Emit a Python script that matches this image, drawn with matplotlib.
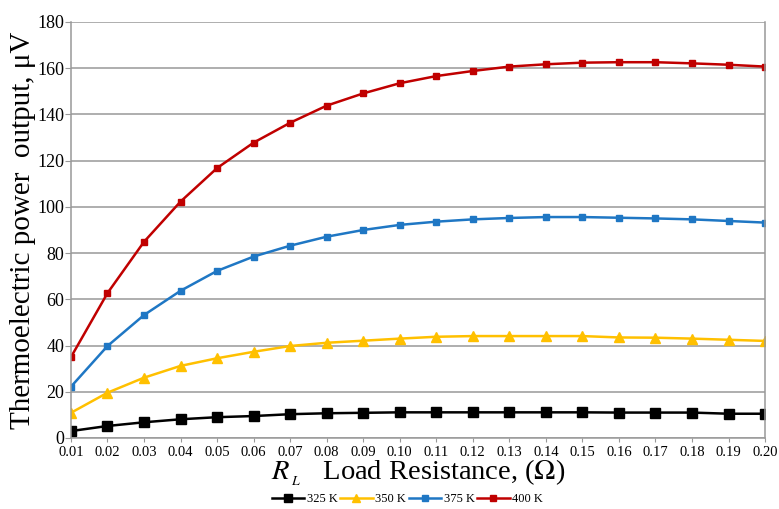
import numpy as np
from matplotlib import pyplot as plt

# load resistance (ohm)
r_load = [0.01, 0.02, 0.03, 0.04, 0.05, 0.06, 0.07, 0.08, 0.09, 0.10,
          0.11, 0.12, 0.13, 0.14, 0.15, 0.16, 0.17, 0.18, 0.19, 0.20]

# thermoelectric power output (uV)
p_325 = [3.0, 5.2, 6.8, 8.1, 9.0, 9.5, 10.3, 10.7, 10.9, 11.1,
         11.1, 11.1, 11.1, 11.1, 11.1, 11.0, 11.0, 11.0, 10.5, 10.5]
p_350 = [10.9, 19.6, 26.1, 31.2, 34.5, 37.3, 39.8, 41.2, 42.1, 43.0,
         43.8, 44.1, 44.1, 44.1, 44.1, 43.5, 43.4, 43.0, 42.5, 42.0]
p_375 = [22.2, 39.8, 53.2, 63.7, 72.3, 78.5, 83.2, 87.1, 90.0, 92.2,
         93.6, 94.6, 95.2, 95.6, 95.6, 95.3, 95.0, 94.6, 93.9, 93.2]
p_400 = [35.0, 62.7, 84.9, 102.3, 116.8, 127.8, 136.4, 143.8, 149.1, 153.5,
         156.6, 158.8, 160.7, 161.7, 162.4, 162.6, 162.6, 162.1, 161.5, 160.7]

labels = ["325 K", "350 K", "375 K", "400 K"]
x_ticks = ["%.2f" % v for v in r_load]


def main():
    plt.rcParams['font.family'] = ['Liberation Serif', 'DejaVu Serif']
    plt.rcParams['mathtext.fontset'] = 'stix'
    fig = plt.figure(figsize=(7.79, 5.09), dpi=100)
    ax = fig.add_axes([0.0911, 0.1395, 0.891, 0.8173])

    styles = [("black", "s", 6.5), ("#FFC000", "^", 6.5),
              ("#1F77C4", "s", 5), ("#C00000", "s", 5)]
    series = [p_325, p_350, p_375, p_400]
    for vals, lab, (col, mk, ms) in zip(series, labels, styles):
        ax.plot(r_load, vals, color=col, marker=mk, markersize=ms, lw=1.8,
                label=lab)

    ax.set_xlim(0.01, 0.20)
    ax.set_ylim(0, 180)
    ax.set_xticks(r_load)
    ax.set_xticklabels(x_ticks, fontsize=10.5)
    ax.set_yticks(np.arange(0, 181, 20))
    ax.tick_params(axis='y', labelsize=13, length=4, color='#999999', pad=1)
    ax.tick_params(axis='x', length=3, color='#999999', pad=3)
    ax.yaxis.grid(True, color='#999999', lw=1.1)
    ax.set_axisbelow(True)
    for s in ['left', 'right', 'bottom']:
        ax.spines[s].set_color('#999999')
        ax.spines[s].set_linewidth(1.1)
    ax.spines['top'].set_visible(False)

    ax.set_ylabel("Thermoelectric power  output, \u03bcV", fontsize=21,
                  labelpad=1)
    ax.set_xlabel(r"$R_{\,{}_L}$   Load Resistance, ($\Omega$)",
                  fontsize=20.5, labelpad=-1)

    fig.legend(*ax.get_legend_handles_labels(), loc='lower center',
               bbox_to_anchor=(0.523, -0.014), ncol=4,
               fontsize=9, frameon=False, handlelength=2.6,
               columnspacing=0.2, handletextpad=0.2, markerscale=0.9)

    fig.savefig("out.png", dpi=100)


if __name__ == '__main__':
    main()
